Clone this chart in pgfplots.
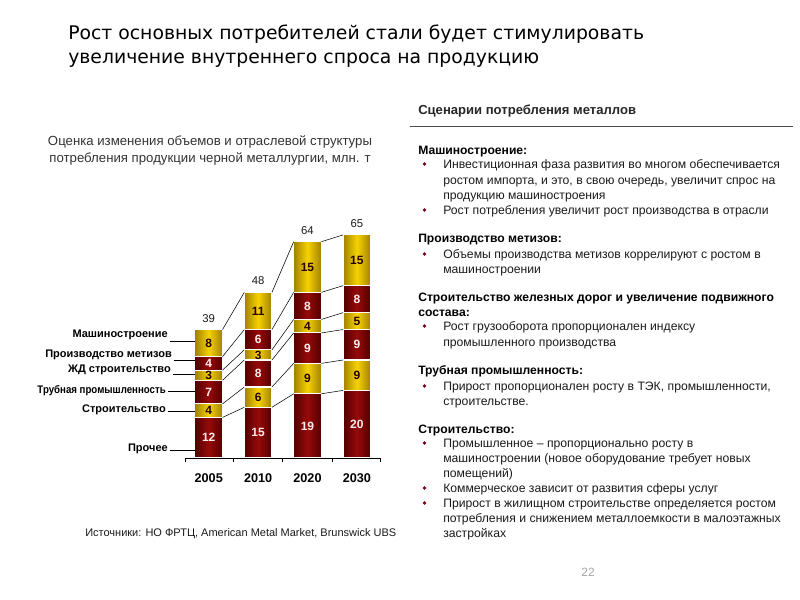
\documentclass[border=0pt]{standalone}
\usepackage{graphicx}
\usepackage{pgfplots}
\pgfplotsset{compat=1.18}
\usepackage{pgfplotstable}
\usepackage{fontspec}
\setmainfont{Liberation Sans}
\newfontfamily\titlefont{DejaVu Sans}
\definecolor{goldD}{HTML}{A08000}
\definecolor{goldL}{HTML}{F6D200}
\definecolor{redD}{HTML}{520000}
\definecolor{redL}{HTML}{960A0A}
\definecolor{bul}{HTML}{6B0A1A}
\definecolor{txt}{HTML}{1A1A1A}

\pgfplotstableread{
x prochee stroit trub zhd metiz mash
0 12 4 7 3 4 8
1 15 6 8 3 6 11
2 19 9 9 4 8 15
3 20 9 9 5 8 15
}\cons

\pgfplotsset{
  base/.style={scale only axis, width=146.7pt, height=177.45pt,
    xmin=-0.48, xmax=3.48, ymin=0, ymax=70,
    at={(138.75pt,-343.5pt)}, anchor=south west, clip=false},
  redbar/.style={left color=redD, right color=redD, middle color=redL, draw=white, line width=0.8pt},
  goldbar/.style={left color=goldD, right color=goldD, middle color=goldL, draw=white, line width=0.8pt},
}

\newcommand\Hd[2]{\node[anchor=base west, inner sep=0, font=\bfseries\fontsize{9.1}{11}\selectfont] at (418,#1+4) {#2};}
\newcommand\Bl[2]{\fill[bul] (424.5,#1) circle (1.9); \node[anchor=base west, inner sep=0, text=txt, font=\fontsize{9.15}{11}\selectfont] at (443,#1+4) {#2};}
\newcommand\Cn[2]{\node[anchor=base west, inner sep=0, text=txt, font=\fontsize{9.15}{11}\selectfont] at (443,#1+4) {#2};}
\newcommand\Lb[4]{\node[anchor=east, inner sep=0, font=\bfseries\fontsize{8.25}{10}\selectfont] at (#1,#2) {#4}; \draw[line width=0.5pt] (#1+1.5,#3) -- (195,#3);}

\begin{document}
\begin{tikzpicture}
\path[use as bounding box] (0,0) rectangle (600pt,-450pt);

% one stacked axis per year, so that each bar gets its own shading
\pgfplotsinvokeforeach{0,1,2,3}{
\begin{axis}[base, hide axis, ybar stacked, bar width=0.56,
  x filter/.expression={abs(x-#1)<0.1 ? x : nan}]
\addplot[redbar]  table[x=x,y=prochee]{\cons};
\addplot[goldbar] table[x=x,y=stroit]{\cons};
\addplot[redbar]  table[x=x,y=trub]{\cons};
\addplot[goldbar] table[x=x,y=zhd]{\cons};
\addplot[redbar]  table[x=x,y=metiz]{\cons};
\addplot[goldbar] table[x=x,y=mash]{\cons};
\end{axis}
}

\begin{axis}[base,
  axis x line*=bottom, axis y line=none,
  axis line style={black, line width=0.6pt},
  xtick={-0.48,0.5,1.5,2.5,3.48}, xticklabels={},
  tick align=outside, major tick length=3pt, tick style={black, line width=0.6pt},
  ytick=\empty,
  extra x ticks={0,1,2,3}, extra x tick labels={2005,2010,2020,2030},
  extra x tick style={major tick length=0pt,
     tick label style={font=\bfseries\fontsize{9.5}{11}\selectfont, yshift=-8pt}}]
% connector lines between bars
\addplot[black, line width=0.4pt, unbounded coords=jump] coordinates {
 (0.28,12) (0.72,15) (0.5,nan) (1.28,15) (1.72,19) (1.5,nan) (2.28,19) (2.72,20) (2.5,nan)
 (0.28,16) (0.72,21) (0.5,nan) (1.28,21) (1.72,28) (1.5,nan) (2.28,28) (2.72,29) (2.5,nan)
 (0.28,23) (0.72,29) (0.5,nan) (1.28,29) (1.72,37) (1.5,nan) (2.28,37) (2.72,38) (2.5,nan)
 (0.28,26) (0.72,32) (0.5,nan) (1.28,32) (1.72,41) (1.5,nan) (2.28,41) (2.72,43) (2.5,nan)
 (0.28,30) (0.72,38) (0.5,nan) (1.28,38) (1.72,49) (1.5,nan) (2.28,49) (2.72,51) (2.5,nan)
 (0.28,38) (0.72,49) (0.5,nan) (1.28,49) (1.72,64) (1.5,nan) (2.28,64) (2.72,66)
};
% labels on red segments
\addplot[draw=none, mark=none, nodes near coords, point meta=explicit symbolic,
  every node near coord/.append style={anchor=center, text=white!92!red, font=\bfseries\fontsize{9}{10}\selectfont}]
  coordinates {(0,6)[12] (0,19.5)[7] (0,28)[4]
               (1,7.5)[15] (1,25)[8] (1,35)[6]
               (2,9.5)[19] (2,32.5)[9] (2,45)[8]
               (3,10)[20] (3,33.5)[9] (3,47)[8]};
% labels on gold segments
\addplot[draw=none, mark=none, nodes near coords, point meta=explicit symbolic,
  every node near coord/.append style={anchor=center, text=black!85!red, font=\bfseries\fontsize{9}{10}\selectfont}]
  coordinates {(0,14)[4] (0,24.5)[3] (0,34)[8]
               (1,18)[6] (1,30.5)[3] (1,43.5)[11]
               (2,23.5)[9] (2,39)[4] (2,56.5)[15]
               (3,24.5)[9] (3,40.5)[5] (3,58.5)[15]};
% totals
\addplot[draw=none, mark=none, nodes near coords, point meta=explicit symbolic,
  every node near coord/.append style={anchor=south, yshift=2pt, text=txt, font=\fontsize{8.5}{10}\selectfont}]
  coordinates {(0,38)[39] (1,49)[48] (2,64)[64] (3,66)[65]};
\end{axis}

\begin{scope}[x=0.75pt,y=-0.75pt]
% title
\node[anchor=base west, inner sep=0, font=\titlefont\fontsize{14.1}{18}\selectfont] at (68,39) {Рост основных потребителей стали будет стимулировать};
\node[anchor=base west, inner sep=0, font=\titlefont\fontsize{14.1}{18}\selectfont] at (68,63) {увеличение внутреннего спроса на продукцию};
% chart title
\node[align=center, text=black!80, font=\fontsize{9.9}{12.75}\selectfont] at (210,150) {Оценка изменения объемов и отраслевой структуры\\потребления продукции черной металлургии, млн. т};
% leader labels
\Lb{168}{335}{341}{Машиностроение}
\Lb{172}{355}{360}{Производство метизов}
\Lb{171}{370}{374}{ЖД строительство}
\Lb{166}{391}{391}{\scalebox{0.88}[1]{Трубная промышленность}}
\Lb{166}{410}{411}{Строительство}
\Lb{168}{449}{450}{Прочее}
% sources
\node[anchor=west, inner sep=0, text=txt, font=\fontsize{8.25}{10}\selectfont] at (85,534) {Источники: НО ФРТЦ, American Metal Market, Brunswick UBS};
% right panel
\node[anchor=base west, inner sep=0, font=\bfseries\fontsize{9.8}{11}\selectfont, text=black!85] at (418,114) {Сценарии потребления металлов};
\draw[black!70, line width=0.6pt] (410,126) -- (793,126);
\Hd{150}{Машиностроение:}
\Bl{164}{Инвестиционная фаза развития во многом обеспечивается}
\Cn{180}{ростом импорта, и это, в свою очередь, увеличит спрос на}
\Cn{195}{продукцию машиностроения}
\Bl{210}{Рост потребления увеличит рост производства в отрасли}
\Hd{238}{Производство метизов:}
\Bl{254}{Объемы производства метизов коррелируют с ростом в}
\Cn{269}{машиностроении}
\Hd{297}{Строительство железных дорог и увеличение подвижного}
\Hd{312}{состава:}
\Bl{326}{Рост грузооборота пропорционален индексу}
\Cn{342}{промышленного производства}
\Hd{370}{Трубная промышленность:}
\Bl{386}{Прирост пропорционален росту в ТЭК, промышленности,}
\Cn{401}{строительстве.}
\Hd{429}{Строительство:}
\Bl{443}{Промышленное – пропорционально росту в}
\Cn{458}{машиностроении (новое оборудование требует новых}
\Cn{473}{помещений)}
\Bl{488}{Коммерческое зависит от развития сферы услуг}
\Bl{503}{Прирост в жилищном строительстве определяется ростом}
\Cn{518}{потребления и снижением металлоемкости в малоэтажных}
\Cn{533}{застройках}
% page number
\node[text=black!35, font=\fontsize{9}{11}\selectfont] at (588,572) {22};
\end{scope}
\end{tikzpicture}
\end{document}
